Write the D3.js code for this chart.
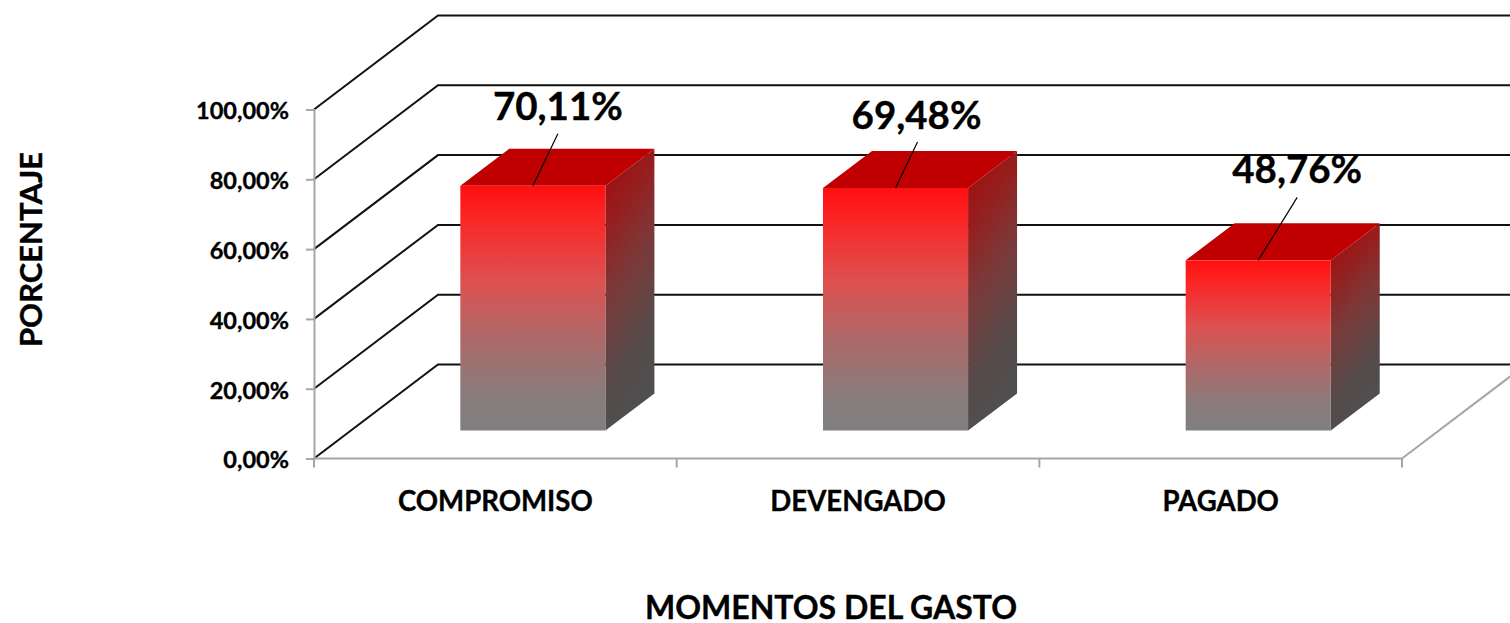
<!DOCTYPE html>
<html><head><meta charset="utf-8">
<script src="https://cdn.jsdelivr.net/npm/d3@7"></script>
<style>html,body{margin:0;padding:0;background:#fff}svg{display:block}text{font-family:Lato,"Noto Sans",sans-serif;font-weight:700;fill:#000;stroke:#000;stroke-width:.35px}</style>
</head><body><svg id="c" width="1510" height="623"></svg>
<script>
const categories = ["COMPROMISO","DEVENGADO","PAGADO"];
const seriesValues = [70.11,69.48,48.76];
const valueLabels = ["70,11%","69,48%","48,76%"];
const tickValues = [0,20,40,60,80,100];
const tickLabels = ["0,00%","20,00%","40,00%","60,00%","80,00%","100,00%"];
const xTitle = "MOMENTOS DEL GASTO";
const yTitle = "PORCENTAJE";

const W=1510,H=623;
const svg=d3.select("#c");
const y=d3.scaleLinear().domain([0,100]).range([458.5,109.5]);
const x=d3.scaleBand().domain(categories).range([314,1402]);
// oblique projection of the chart's depth
const wallDX=124, wallDY=-94;
const barDepthFront=28/94;      // bar front sits this far into the floor
const barDX=49, barDY=-37;
const barW=x.bandwidth()*0.4;
const leaders=[[25,-52],[22,-46],[39,-63]];
const labelDX=[25,21,39];
const labelBase=[-66,-59,-77];

const defs=svg.append("defs");
const front=defs.append("linearGradient").attr("id","gF").attr("x1",0).attr("y1",0).attr("x2",0).attr("y2",1);
[[0,"#ff0f0f"],[.12,"#fb2424"],[.4,"#dc5252"],[.62,"#ae6868"],[.85,"#8a7c7c"],[1,"#7f7f7f"]]
 .forEach(s=>front.append("stop").attr("offset",s[0]).attr("stop-color",s[1]));
const side=defs.append("linearGradient").attr("id","gS").attr("x1",0).attr("y1",0).attr("x2",.25).attr("y2",1);
[[0,"#a00a0a"],[.25,"#981c1c"],[.5,"#7d3838"],[.8,"#574a4a"],[1,"#4f4f4f"]]
 .forEach(s=>side.append("stop").attr("offset",s[0]).attr("stop-color",s[1]));

const root=svg.append("g");
const clip=defs.append("clipPath").attr("id","pg");clip.append("rect").attr("width",W).attr("height",H);
root.attr("clip-path","url(#pg)");

const line=d3.line();
root.append("g").selectAll("path").data(tickValues).join("path")
 .attr("fill","none").attr("stroke","#111").attr("stroke-width",2)
 .attr("d",d=>line([[x.range()[0],y(d)],[x.range()[0]+wallDX,y(d)+wallDY],[x.range()[1]+wallDX,y(d)+wallDY]]));

root.append("path").attr("fill","none").attr("stroke","#a6a6a6").attr("stroke-width",2)
 .attr("d",line([[x.range()[1],y(0)],[x.range()[1]+wallDX,y(0)+wallDY]]));

const axisL=d3.axisLeft(y).tickValues(tickValues).tickFormat((d,i)=>tickLabels[i]).tickSize(8).tickPadding(17);
const gy=root.append("g").attr("transform",`translate(${x.range()[0]},0)`).call(axisL);
gy.selectAll("path,line").attr("stroke","#a6a6a6").attr("stroke-width",2);
gy.selectAll("text").attr("font-size",23.5).style("font-family","Lato").attr("dy","0.4em");

const gx=root.append("g").attr("transform",`translate(0,${y(0)})`);
gx.append("line").attr("x1",x.range()[0]).attr("x2",x.range()[1]).attr("stroke","#a6a6a6").attr("stroke-width",2);
gx.selectAll("line.t").data([...categories.map(c=>x(c)),x.range()[1]]).join("line").attr("class","t")
 .attr("x1",d=>d).attr("x2",d=>d).attr("y1",0).attr("y2",9).attr("stroke","#a6a6a6").attr("stroke-width",2);
gx.selectAll("text").data(categories).join("text")
 .attr("x",c=>x(c)+x.bandwidth()/2).attr("y",52).attr("text-anchor","middle").attr("font-size",27.6).text(c=>c);

const baseY=y(0)+wallDY*barDepthFront;
const baseShift=wallDX*barDepthFront+0.6;
const bars=root.append("g").selectAll("g").data(categories.map((c,i)=>({c,v:seriesValues[i],i}))).join("g");
const L=d=>x(d.c)+x.bandwidth()/2+baseShift-barW/2;
const R=d=>L(d)+barW;
const T=d=>baseY-(y(0)-y(d.v));
bars.append("polygon").attr("fill","#c00000")
 .attr("points",d=>[[L(d),T(d)],[R(d),T(d)],[R(d)+barDX,T(d)+barDY],[L(d)+barDX,T(d)+barDY]].join(" "));
bars.append("polygon").attr("fill","url(#gS)")
 .attr("points",d=>[[R(d),T(d)],[R(d)+barDX,T(d)+barDY],[R(d)+barDX,baseY+barDY],[R(d),baseY]].join(" "));
bars.append("rect").attr("fill","url(#gF)")
 .attr("x",L).attr("y",T).attr("width",barW).attr("height",d=>baseY-T(d));
const cx=d=>(L(d)+R(d))/2;
bars.append("line").attr("stroke","#000").attr("stroke-width",1.2)
 .attr("x1",cx).attr("y1",T).attr("x2",d=>cx(d)+leaders[d.i][0]).attr("y2",d=>T(d)+leaders[d.i][1]);
bars.append("text").attr("text-anchor","middle").attr("font-size",38.5)
 .attr("x",d=>cx(d)+labelDX[d.i]).attr("y",d=>T(d)+labelBase[d.i]).text(d=>valueLabels[d.i]);

svg.append("text").attr("x",831).attr("y",619).attr("text-anchor","middle").attr("font-size",32).text(xTitle);
svg.append("text").attr("transform","translate(41.5,249.5) rotate(-90)").attr("text-anchor","middle").attr("font-size",31).text(yTitle);
</script></body></html>
